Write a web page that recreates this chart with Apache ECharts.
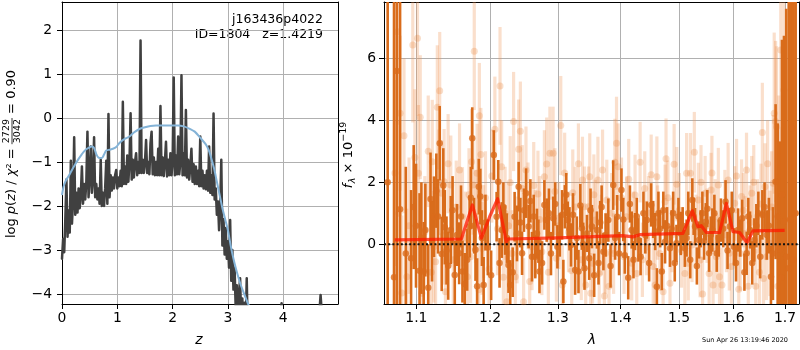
<!DOCTYPE html>
<html><head><meta charset="utf-8">
<script src="https://cdn.jsdelivr.net/npm/echarts@6.0.0/dist/echarts.min.js"></script>
<style>html,body{margin:0;padding:0;background:#fff;}#c{width:800px;height:350px;}</style>
</head><body><div id="c"></div>
<script>
// ---------- LEFT PANEL DATA: log p(z) ----------
const zDark = [
0,0.02,0.04,0.06,0.08,0.1,0.12,0.14,0.16,0.18,
0.2,0.22,0.24,0.26,0.28,0.3,0.32,0.34,0.36,0.38,
0.4,0.42,0.44,0.46,0.48,0.5,0.52,0.54,0.56,0.58,
0.6,0.62,0.64,0.66,0.68,0.7,0.72,0.74,0.76,0.78,
0.8,0.82,0.84,0.86,0.88,0.9,0.92,0.94,0.96,0.98,
1,1.02,1.04,1.06,1.08,1.1,1.12,1.14,1.16,1.18,
1.2,1.22,1.24,1.26,1.28,1.3,1.32,1.34,1.36,1.38,
1.4,1.42,1.44,1.46,1.48,1.5,1.52,1.54,1.56,1.58,
1.6,1.62,1.64,1.66,1.68,1.7,1.72,1.74,1.76,1.78,
1.8,1.82,1.84,1.86,1.88,1.9,1.92,1.94,1.96,1.98,
2,2.02,2.04,2.06,2.08,2.1,2.12,2.14,2.16,2.18,
2.2,2.22,2.24,2.26,2.28,2.3,2.32,2.34,2.36,2.38,
2.4,2.42,2.44,2.46,2.48,2.5,2.52,2.54,2.56,2.58,
2.6,2.62,2.64,2.66,2.68,2.7,2.72,2.74,2.76,2.78,
2.8,2.82,2.84,2.86,2.88,2.9,2.92,2.94,2.96,2.98,
3,3.02,3.04,3.06,3.08,3.1,3.12,3.14,3.16,3.18,
3.2,3.22,3.24,3.26,3.28,3.3,3.32,3.34,3.36,
3.38,3.5,3.9,3.95,3.97,3.99,4.05,4.6,4.66,4.675,4.69,4.75,4.99];
const pDark = [
-3.2,-2.75,-3.05,-2.3,-1.4,-2.7,-2.1,-2.6,-0.97,-2.4,
-1.9,-0.44,-2.2,-1.7,-2.15,-1.6,-2.05,-1.75,-1.1,-1.95,
-1.5,-1.85,-1.45,-0.31,-1.8,-1.35,-0.65,-1.7,-1.4,-0.44,
-1.8,-1.5,-1.85,-1.6,-1.95,-0.95,-2.0,-1.7,-2.0,-1.6,
-0.97,-1.95,0.09,-1.8,-1.3,-1.65,-1.35,-1.6,-1.3,-1.18,
-1.6,-1.35,-1.55,-1.2,-1.55,0.37,-1.5,-1.1,-1.5,-0.85,
-1.45,-1.0,0.11,-1.4,-0.95,-1.35,-1.0,-0.8,-1.3,-1.0,
-1.25,1.76,-1.25,-0.95,-1.25,-1.0,-0.5,-1.25,-1.0,-1.28,
-0.57,-0.31,-1.28,-0.9,-1.3,-1.0,-1.3,-0.7,-1.3,0.27,
-1.3,-0.9,-1.32,-1.0,-0.54,-1.33,-0.95,-1.3,-0.8,-1.3,
-1.0,0.92,-1.3,-0.85,-1.28,-0.42,-1.28,-1.0,0.97,-1.3,
-0.8,-1.3,0.18,-1.35,-0.95,-1.4,-1.1,-0.7,-1.45,-1.05,
-1.5,-1.1,-1.5,-1.2,-1.55,-0.42,-1.55,-1.2,-1.6,-1.3,
-1.62,-1.2,-1.65,-0.65,-1.7,-1.3,-1.75,0.1,-1.85,-1.6,
-2.2,-1.9,-2.55,-2.0,-0.95,-2.9,-2.3,-3.1,-2.5,-3.2,
-2.8,-3.4,-2.32,-3.7,-3.0,-3.9,-3.4,-4.3,-3.8,-4.5,
-4.0,-3.64,-4.6,-4.1,-4.7,-4.2,-4.8,-3.64,-5.0,
-5.2,-5.6,-5.6,-4.4,-4.21,-4.4,-5.6,-5.6,-4.3,-4.02,-4.3,-5.6,-5.8];
const zBlue = [0,0.03,0.07,0.12,0.18,0.24,0.3,0.36,0.42,0.48,0.54,0.58,0.62,0.66,0.72,0.76,0.8,0.86,0.92,0.98,
1.03,1.08,1.16,1.22,1.3,1.4,1.5,1.6,1.7,1.8,1.9,2.0,2.1,2.2,2.3,2.4,2.5,2.6,2.65,2.7,
2.75,2.8,2.85,2.9,2.95,3.0,3.05,3.1,3.15,3.22,3.3,3.36,3.45,3.6];
const pBlue = [-1.75,-1.55,-1.42,-1.32,-1.18,-1.05,-0.93,-0.82,-0.73,-0.68,-0.65,-0.68,-0.82,-0.9,-0.91,-0.83,-0.74,-0.72,-0.7,-0.66,
-0.58,-0.52,-0.46,-0.42,-0.33,-0.25,-0.21,-0.18,-0.17,-0.17,-0.17,-0.17,-0.17,-0.19,-0.24,-0.31,-0.45,-0.6,-0.72,-0.92,
-1.15,-1.45,-1.75,-2.05,-2.3,-2.55,-2.9,-3.2,-3.45,-3.75,-4.02,-4.21,-4.45,-4.8];
const zTicks = [0,1,2,3,4];
const pTicks = [-4,-3,-2,-1,0,1,2];

// ---------- RIGHT PANEL DATA: spectrum ----------
const lamDark = [
1.0633,1.0713,1.0748,1.079,1.0863,1.0931,1.0995,1.1041,1.1095,1.1117,
1.1185,1.1231,1.1262,1.1307,1.1334,1.1375,1.1421,1.1456,1.151,1.157,
1.1615,1.1646,1.1714,1.175,1.1795,1.1818,1.1841,1.1863,1.1909,1.1968,
1.2053,1.2093,1.2117,1.2167,1.2215,1.2264,1.2289,1.2353,1.2388,1.2412,
1.2462,1.2521,1.2559,1.2609,1.2658,1.2683,1.2721,1.2795,1.283,1.2864,
1.2928,1.2993,1.3065,1.3108,1.3152,1.3204,1.3268,1.3321,1.3375,1.3416,
1.3455,1.3491,1.3534,1.3614,1.3667,1.3719,1.3799,1.3879,1.3943,1.4014,
1.407,1.4127,1.4185,1.4241,1.4298,1.4383,1.4442,1.4515,1.4584,1.4613,
1.464,1.4698,1.4755,1.4841,1.4897,1.4955,1.5031,1.5104,1.5165,1.5238,
1.5287,1.536,1.542,1.5483,1.5543,1.5603,1.5684,1.5762,1.5848,1.5927,
1.6006,1.6084,1.6162,1.6248,1.6312,1.6396,1.6474,1.6552,1.6637,1.6721,
1.6813,1.6897,1.6925,1.698,1.7075,1.7141,1.7216,
1.0965,1.1065,1.1155,1.1205,1.1285,1.1355,1.1398,1.148,1.154,1.1595,
1.168,1.173,1.1775,1.1885,1.1935,1.2015,1.2135,1.219,1.224,1.2325,
1.2437,1.249,1.2585,1.2635,1.2705,1.276,1.2895,1.296,1.303,1.3085,
1.313,1.318,1.3235,1.3295,1.335,1.3395,1.3512,1.357,1.364,1.369,
1.3755,1.3835,1.391,1.3975,1.4045,1.4155,1.4215,1.427,1.4335,1.4415,
1.448,1.455,1.467,1.4725,1.479,1.487,1.4925,1.499,1.5065,1.5135,
1.52,1.5262,1.532,1.539,1.545,1.551,1.5573,1.564,1.572,1.5805,
1.5885,1.5965,1.6045,1.6125,1.6205,1.628,1.6355,1.6435,1.651,1.6595,
1.668,1.676,1.6855,1.694,1.7025,1.7105,1.7175];
const fDark = [
2.0,-1.06,5.59,1.13,-0.3,-0.45,0.6,-0.85,-0.88,0.46,
1.46,0.89,1.73,3.26,-0.31,0.55,-0.69,0.46,-0.99,-0.29,
-0.88,-1.28,0.57,3.42,-0.18,-1.35,1.86,1.54,-1.31,-0.1,
2.88,0.89,2.02,0.46,0.46,-0.67,-1.31,0.89,0.35,1.86,
-0.29,1.65,0.57,-0.4,-0.4,0.35,-0.88,1.27,0.78,1.0,
0.84,-0.08,0.95,1.21,0.78,-0.02,-0.83,-0.88,0.52,-0.77,
0.35,-0.45,0.57,0.46,0.7,-0.24,0.78,1.91,0.89,1.75,
-0.35,-1.08,0.46,0.41,0.14,1.0,0.78,1.27,0.41,-1.37,
1.0,-0.88,0.08,-0.13,1.0,0.03,0.35,-0.13,1.0,1.43,
0.57,0.14,1.0,0.73,-0.29,0.46,-0.29,0.78,1.37,0.57,
-0.08,0.46,0.84,-0.29,0.46,0.14,1.0,0.95,0.3,-1.05,
2.02,-0.18,-1.08,0.73,-0.77,3.74,1.0,
1.2,0.2,-1.4,0.1,0.9,1.9,-0.2,1.1,0.3,0.9,
-0.5,1.5,0.6,0.2,0.7,-1.0,-0.6,1.2,0.2,-0.9,
0.7,1.1,1.4,0.9,0.1,-0.6,-0.3,1.3,0.3,-1.2,
1.6,0.5,0.95,0.2,1.25,0.0,1.1,-1.0,-0.6,1.2,
0.3,-0.7,0.2,-0.3,0.8,1.3,-0.5,0.9,-0.4,0.3,
-0.6,0.8,0.5,1.1,0.6,0.5,-0.6,0.9,0.6,0.2,
-0.5,0.9,-0.7,0.5,0.1,1.15,0.3,1.0,0.2,0.5,
-0.2,1.1,-0.6,0.2,-0.9,0.9,-0.6,0.6,-0.4,1.2,
0.6,-0.3,0.9,1.6,-0.4,0.8,-0.5];
const eDark = [
12,10,10,8,2.8,2.2,2.0,2.5,1.6,1.5,
1.5,1.3,1.2,1.2,1.2,1.2,1.1,1.1,1.1,1.0,
1.0,1.0,1.0,1.0,1.0,0.9,0.9,0.9,0.9,0.9,
0.8,0.8,0.7,0.9,0.8,0.9,0.8,0.8,0.9,0.8,
0.7,0.8,0.7,0.8,0.7,0.8,0.7,0.8,0.7,0.8,
0.7,0.7,0.8,0.7,0.6,0.7,0.8,0.7,0.7,0.7,
0.6,0.7,0.7,0.6,0.7,0.6,0.7,0.8,0.7,0.7,
0.6,0.7,0.6,0.6,0.7,0.7,0.6,0.7,0.6,0.6,
0.7,0.6,0.7,0.6,0.7,0.6,0.7,0.6,0.7,0.7,
0.6,0.6,0.7,0.6,0.6,0.7,0.6,0.7,0.7,0.6,
0.6,0.7,0.6,0.7,0.6,0.7,0.7,0.8,0.8,1.0,
2.5,3.5,4,6,10,10,12,
2.0,1.8,1.4,1.3,1.2,1.2,1.1,1.1,1.0,1.0,
1.0,1.0,0.9,0.9,0.9,0.8,0.8,0.8,0.8,0.8,
0.8,0.7,0.7,0.7,0.7,0.7,0.7,0.7,0.7,0.7,
0.7,0.7,0.7,0.7,0.7,0.7,0.7,0.7,0.7,0.7,
0.7,0.7,0.7,0.7,0.7,0.6,0.6,0.6,0.6,0.6,
0.6,0.6,0.6,0.6,0.6,0.6,0.6,0.6,0.6,0.6,
0.6,0.6,0.6,0.6,0.6,0.6,0.6,0.6,0.6,0.6,
0.6,0.6,0.6,0.6,0.6,0.6,0.7,0.7,0.7,0.8,
0.9,1.5,3,5,8,12,12];
const lamLight = [
1.0757,1.079,1.0812,1.0876,1.0953,1.1014,1.1027,1.1072,1.1208,1.1228,
1.1252,1.1275,1.1307,1.1334,1.1366,1.1384,1.1456,1.1615,1.1683,1.1727,
1.1741,1.176,1.1778,1.1818,1.1841,1.1849,1.1886,1.1909,1.2068,1.2142,
1.219,1.2215,1.224,1.2289,1.2338,1.2363,1.2388,1.2412,1.2437,1.2485,
1.255,1.2609,1.2658,1.2698,1.2757,1.2795,1.283,1.2879,1.2928,1.2978,
1.3045,1.3069,1.3215,1.3231,1.3384,1.3416,1.3435,1.348,1.3499,1.3515,
1.3544,1.3587,1.363,1.3651,1.3735,1.3754,1.3774,1.381,1.3906,1.3933,
1.3959,1.4058,1.4099,1.4185,1.4241,1.427,1.4327,1.4469,1.4515,1.455,
1.4584,1.4613,1.4721,1.4755,1.4772,1.4841,1.4914,1.496,1.5104,1.5135,
1.5165,1.5205,1.5232,1.5274,1.5347,1.5378,1.5424,1.547,1.5543,1.5579,
1.5616,1.5713,1.5735,1.5781,1.5896,1.5918,1.5958,1.6019,1.6097,1.615,
1.6214,1.6279,1.6345,1.6423,1.6552,1.6604,1.6633,1.6702,1.6766,1.6785,
1.6813,1.6832,1.6858,1.6916,1.6945,1.698,
1.0725,1.0775,1.084,1.0905,1.098,1.105,1.111,1.1155,1.1195,1.1295,
1.136,1.142,1.149,1.153,1.1575,1.1655,1.1705,1.1795,1.187,1.1935,
1.1985,1.2025,1.2105,1.2165,1.2265,1.2315,1.2465,1.252,1.2575,1.2635,
1.2725,1.2855,1.2955,1.3015,1.3105,1.3165,1.327,1.332,1.3365,1.3565,
1.3685,1.3705,1.3855,1.3885,1.4015,1.4135,1.4212,1.4365,1.4405,1.4435,
1.4625,1.4665,1.4805,1.4875,1.5005,1.5045,1.5305,1.5395,1.5505,1.5595,
1.5655,1.5675,1.5835,1.5865,1.6055,1.6125,1.6185,1.6245,1.6315,1.6385,
1.6455,1.6495,1.6525,1.6575,1.6655,1.6735,1.6875,1.6965];
const fLight = [
6.86,4.23,-1.57,-1.05,6.43,6.65,2.29,-1.58,2.66,-0.08,
-0.56,4.42,4.95,1.65,2.02,-1.53,1.91,0.89,-1.05,-0.4,
2.66,1.91,6.23,2.29,-1.47,4.15,-0.13,0.41,3.71,5.11,
-1.06,1.0,-1.85,1.99,3.96,-1.05,0.14,3.07,3.65,-1.85,
1.24,-0.08,0.35,1.62,-0.24,2.18,2.59,2.94,2.94,-0.45,
3.83,-1.31,-0.85,1.66,2.07,1.21,-1.31,1.21,2.18,-1.58,
-0.61,0.78,2.07,-0.94,-1.67,-0.29,1.43,-1.35,2.65,3.26,
2.5,-0.4,0.89,-0.61,1.59,-0.94,2.65,1.0,2.24,-0.72,
-1.31,2.18,-1.53,1.37,2.76,-1.26,2.58,1.94,-0.94,2.29,
-0.61,2.29,-0.02,2.97,1.43,-0.51,-1.6,1.65,-0.94,1.75,
-1.31,1.91,-1.05,-1.31,2.07,-0.29,-0.72,1.32,-1.45,1.54,
0.35,-1.35,1.65,-1.35,3.61,1.86,-0.4,0.03,1.97,4.23,
3.96,3.79,-1.35,6.27,0.78,4.98,
2.3,1.0,3.5,0.6,2.8,4.1,0.4,3.0,-0.9,2.0,
0.3,2.6,-0.5,1.2,2.4,0.2,1.6,0.9,2.9,1.5,
-0.8,2.2,0.5,2.5,0.6,-0.3,1.8,2.4,-1.2,1.9,
0.8,-0.9,1.7,0.6,2.3,0.4,1.2,2.6,-0.5,1.6,
0.3,2.4,1.0,-0.3,1.5,2.1,0.4,-0.5,1.8,0.2,
0.7,-0.3,1.5,0.3,1.1,-0.2,0.4,2.0,0.6,2.3,
0.9,-0.4,1.2,0.3,2.2,-0.3,1.1,2.4,0.7,2.0,
0.9,-0.9,1.3,-1.1,2.6,1.2,2.2,1.5];
const eLight = [
3,2.5,2.5,2.2,2.5,2.5,2.2,2,2,1.8,
1.8,2,1.9,1.7,1.7,1.7,1.6,1.6,1.5,1.5,
1.7,1.6,1.9,1.6,1.5,1.7,1.5,1.5,1.7,1.9,
1.5,1.5,1.5,1.5,1.6,1.4,1.4,1.6,1.6,1.4,
1.4,1.4,1.4,1.4,1.4,1.5,1.5,1.5,1.5,1.4,
1.6,1.3,1.3,1.4,1.4,1.3,1.3,1.3,1.4,1.3,
1.3,1.3,1.4,1.3,1.3,1.3,1.3,1.2,1.4,1.5,
1.4,1.2,1.3,1.2,1.3,1.2,1.3,1.2,1.3,1.2,
1.2,1.3,1.2,1.2,1.3,1.2,1.3,1.2,1.2,1.3,
1.2,1.3,1.2,1.3,1.2,1.2,1.2,1.2,1.2,1.2,
1.2,1.2,1.2,1.2,1.2,1.2,1.2,1.2,1.2,1.2,
1.2,1.2,1.2,1.2,1.6,1.4,1.4,1.7,2.2,2.6,
2.6,2.6,2.6,3,3,3,
3,3,2.5,2.2,2.2,2,1.8,1.8,1.7,1.7,
1.6,1.6,1.5,1.5,1.5,1.5,1.5,1.5,1.5,1.5,
1.4,1.5,1.5,1.5,1.4,1.4,1.4,1.4,1.4,1.4,
1.4,1.4,1.4,1.4,1.3,1.3,1.3,1.3,1.3,1.3,
1.3,1.3,1.3,1.3,1.3,1.3,1.3,1.2,1.2,1.2,
1.2,1.2,1.2,1.2,1.2,1.2,1.2,1.2,1.2,1.2,
1.2,1.2,1.2,1.2,1.2,1.2,1.2,1.2,1.2,1.2,
1.2,1.2,1.3,1.3,1.4,1.8,2.6,3];
const lamModel = [1.0722,1.160,1.1752,1.1878,1.1994,1.2108,1.2233,1.2256,1.30,1.4034,1.4205,1.4319,1.507,1.5239,1.5339,1.54,1.5492,1.5737,1.5863,1.5987,1.6114,1.6253,1.6369,1.6993];
const fModel = [0.14,0.17,1.27,0.2,0.89,1.47,0.08,0.17,0.21,0.28,0.24,0.31,0.35,1.08,0.57,0.6,0.38,0.38,1.32,0.41,0.38,0.05,0.43,0.45];
const lamTicks = [1.1,1.2,1.3,1.4,1.5,1.6,1.7];
const fTicks = [0,2,4,6];
const lamMin = 1.0587, lamMax = 1.7284;

// ---------- helpers ----------
const FF = '"DejaVu Sans", sans-serif';
const cv = document.createElement('canvas').getContext('2d');
function tw(t, size, it){ cv.font = (it?'italic ':'') + size + 'px ' + FF; return cv.measureText(t).width; }
function T(t, x, y, size, o){ o = o||{};
  return {type:'text', x:x, y:y, silent:true, style:{text:t, x:0, y:0, font:(o.it?'italic ':'')+size+'px '+FF, fill:'#000',
    textAlign:o.align||'left', textVerticalAlign:o.va||'middle', verticalAlign:o.va||'middle'}}; }
function pairs(a,b){ const n=Math.min(a.length,b.length), r=[]; for(let i=0;i<n;i++) r.push([a[i],b[i]]); return r; }
function lpairs(a,b,c){ const n=Math.min(a.length,b.length,c?c.length:1e9), r=[]; for(let i=0;i<n;i++) r.push(c?[Math.log(a[i]),b[i],c[i]]:[Math.log(a[i]),b[i]]); return r; }
const minus = v => (v<0 ? '\u2212'+Math.abs(v) : String(v));
function errRender(color, w){
  return function(params, api){
    const x=api.value(0), y=api.value(1), e=api.value(2);
    const p1=api.coord([x,y-e]), p2=api.coord([x,y+e]);
    return {type:'line', shape:{x1:p1[0],y1:p1[1],x2:p2[0],y2:p2[1]}, style:{stroke:color, lineWidth:w}};
  };
}

function leftLabel(){
  const fs=13, ffs=9.5, ch=[]; let x=0;
  const segs=[['log ',0],['p',1],['(',0],['z',1],[') / ',0],['\u03c7',1],['\u00b2',0],[' = ',0]];
  segs.forEach(s=>{ ch.push(T(s[0],x,0,fs,{it:s[1]})); x+=tw(s[0],fs,s[1]); });
  const fw=Math.max(tw('2729',ffs),tw('3042',ffs))+2;
  ch.push(T('2729',x+fw/2,-5.5,ffs,{align:'center'}));
  ch.push(T('3042',x+fw/2,5.5,ffs,{align:'center'}));
  ch.push({type:'line',silent:true,shape:{x1:x,y1:0,x2:x+fw,y2:0},style:{stroke:'#000',lineWidth:0.8}});
  x+=fw;
  ch.push(T(' = 0.90',x,0,fs)); x+=tw(' = 0.90',fs);
  return {type:'group', x:12, y:154+x/2, rotation:Math.PI/2, children:ch};
}
function rightLabel(){
  const fs=13, ss=9.5, ch=[]; let x=0;
  ch.push(T('f',x,0,fs,{it:1})); x+=tw('f',fs,1)+0.5;
  ch.push(T('\u03bb',x,3.5,ss,{it:1})); x+=tw('\u03bb',ss,1);
  ch.push(T(' \u00d7 10',x,0,fs)); x+=tw(' \u00d7 10',fs);
  ch.push(T('\u221219',x,-5,ss)); x+=tw('\u221219',ss);
  return {type:'group', x:349, y:155+x/2, rotation:Math.PI/2, children:ch};
}

const axLabel = {color:'#000', fontSize:13.9, fontFamily:FF};
const tick = {show:true, length:5, lineStyle:{color:'#000', width:1}};
const grid = {show:true, lineStyle:{color:'#b0b0b0', width:1}};
const frameAx = (gi, mn, mx, pos) => ({gridIndex:gi, type:'value', min:mn, max:mx, position:pos,
  axisLine:{show:true, onZero:false, lineStyle:{color:'#000', width:1}}, axisTick:{show:false}, axisLabel:{show:false}, splitLine:{show:false}});
const lnTicks = lamTicks.map(Math.log);
const xMin1 = Math.log(lamMin), xMax1 = Math.log(lamMax);

const chart = echarts.init(document.getElementById('c'), null, {renderer:'canvas'});
chart.setOption({
  animation:false, backgroundColor:'#fff',
  grid:[{left:62, top:2, width:276, height:302},{left:384, top:2, width:415, height:302}],
  xAxis:[
    {gridIndex:0, type:'value', min:0, max:4.99, position:'bottom',
     axisLine:{show:true, onZero:false, lineStyle:{color:'#000', width:1}},
     axisTick:Object.assign({customValues:zTicks}, tick),
     axisLabel:Object.assign({customValues:zTicks, margin:7}, axLabel), splitLine:grid},
    frameAx(0,0,4.99,'top'),
    {gridIndex:1, type:'value', min:xMin1, max:xMax1, position:'bottom',
     axisLine:{show:true, onZero:false, lineStyle:{color:'#000', width:1}},
     axisTick:Object.assign({customValues:lnTicks}, tick),
     axisLabel:Object.assign({customValues:lnTicks, margin:7, formatter:v=>Math.exp(v).toFixed(1)}, axLabel), splitLine:grid},
    frameAx(1,xMin1,xMax1,'top')
  ],
  yAxis:[
    {gridIndex:0, type:'value', min:-4.227, max:2.636, position:'left',
     axisLine:{show:true, onZero:false, lineStyle:{color:'#000', width:1}},
     axisTick:Object.assign({customValues:pTicks}, tick),
     axisLabel:Object.assign({customValues:pTicks, margin:10, formatter:minus}, axLabel), splitLine:grid},
    frameAx(0,-4.227,2.636,'right'),
    {gridIndex:1, type:'value', min:-1.926, max:7.816, position:'left',
     axisLine:{show:true, onZero:false, lineStyle:{color:'#000', width:1}},
     axisTick:Object.assign({customValues:fTicks}, tick),
     axisLabel:Object.assign({customValues:fTicks, margin:8, formatter:minus}, axLabel), splitLine:grid},
    frameAx(1,-1.926,7.816,'right')
  ],
  series:[
    {type:'line', xAxisIndex:0, yAxisIndex:0, data:pairs(zDark,pDark), symbol:'none', clip:true, silent:true, z:2,
     lineStyle:{color:'#404040', width:2.5, join:'round', cap:'round'}},
    {type:'line', xAxisIndex:0, yAxisIndex:0, data:pairs(zBlue,pBlue), symbol:'none', clip:true, silent:true, smooth:0.3, z:3,
     lineStyle:{color:'#84b3d7', width:2}},
    {type:'custom', xAxisIndex:2, yAxisIndex:2, data:lpairs(lamLight,fLight,eLight), renderItem:errRender('rgba(240,150,85,0.3)',3.2),
     clip:true, silent:true, z:2, encode:{x:0,y:1}},
    {type:'scatter', xAxisIndex:2, yAxisIndex:2, data:lpairs(lamLight,fLight), symbolSize:7, clip:true, silent:true, z:3,
     itemStyle:{color:'rgba(232,130,55,0.33)'}},
    {type:'custom', xAxisIndex:2, yAxisIndex:2, data:lpairs(lamDark,fDark,eDark), renderItem:errRender('#d96c1b',2.6),
     clip:true, silent:true, z:4, encode:{x:0,y:1}},
    {type:'scatter', xAxisIndex:2, yAxisIndex:2, data:lpairs(lamDark,fDark), symbolSize:6.5, clip:true, silent:true, z:5,
     itemStyle:{color:'#d96c1b'}},
    {type:'line', xAxisIndex:2, yAxisIndex:2, data:lpairs(lamModel,fModel), symbol:'none', clip:true, silent:true, z:6,
     lineStyle:{color:'rgba(255,25,0,0.75)', width:3.2, join:'round'}},
    {type:'line', xAxisIndex:2, yAxisIndex:2, data:[[xMin1,0],[xMax1,0]], symbol:'none', clip:true, silent:true, z:7,
     lineStyle:{color:'#111', width:2, type:[2,2.2]}}
  ],
  graphic:[
    leftLabel(), rightLabel(),
    T('z',199,340,14,{it:1,align:'center'}),
    T('\u03bb',592,340,14,{it:1,align:'center'}),
    T('j163436p4022',323,20,12.5,{align:'right'}),
    T('ID=1804   z=1.4219',323,35,12.5,{align:'right'}),
    T('Sun Apr 26 13:19:46 2020',788,340,6.5,{align:'right'})
  ]
});
</script></body></html>
